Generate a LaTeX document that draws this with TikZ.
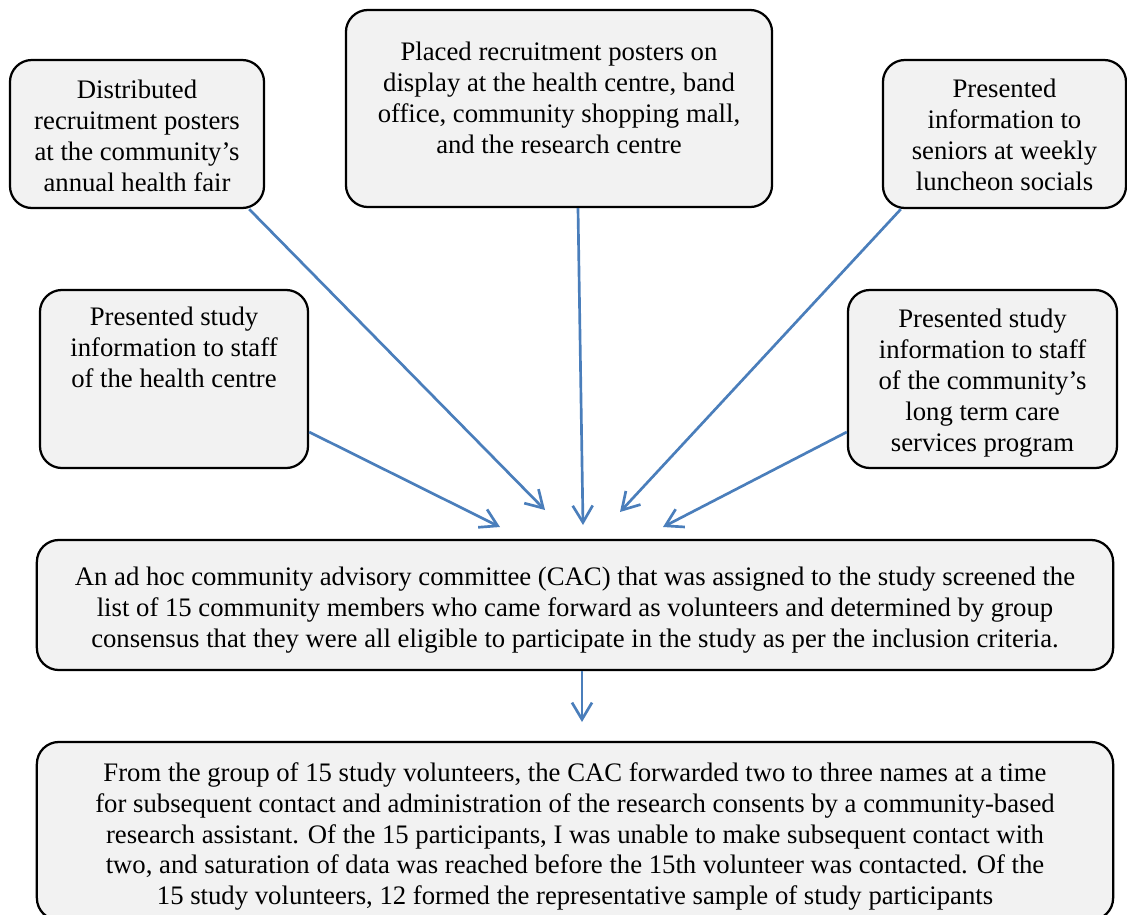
\documentclass[tikz,border=0pt]{standalone}
\usepackage{fontspec}
\setmainfont{Liberation Serif}
\usepackage{tikz}
\usetikzlibrary{arrows.meta,calc,positioning}
\definecolor{boxgray}{HTML}{F2F2F2}
\definecolor{arrowblue}{HTML}{4A7EBB}
\tikzset{
  stagebox/.style={draw=black, fill=boxgray, line width=1.6pt, rounded corners=0.55cm, inner sep=0pt},
  stagetext/.style={align=center, inner sep=0pt, font=\fontsize{19}{22}\selectfont},
  flowarrow/.style={draw=arrowblue, line width=1.9pt, -{Straight Barb[length=0.42cm, width=0.5cm, line width=1.9pt]}}
}

\begin{document}
\begin{tikzpicture}[x=0.025cm, y=-0.025cm]
        \useasboundingbox (0,0) rectangle (1127,915);
        %Boxes
        \node[stagebox, minimum width=6.35cm, minimum height=3.7cm] (b1) at (137,134) {};
        \node[stagebox, minimum width=10.65cm, minimum height=4.925cm] (b2) at (559,108.5) {};
        \node[stagebox, minimum width=6.075cm, minimum height=3.7cm] (b3) at (1004.5,134) {};
        \node[stagebox, minimum width=6.7cm, minimum height=4.45cm] (b4) at (174,379) {};
        \node[stagebox, minimum width=6.725cm, minimum height=4.45cm] (b5) at (982.5,379) {};
        \node[stagebox, minimum width=26.9cm, minimum height=3.25cm] (b6) at (575,605) {};
        \node[stagebox, minimum width=26.9cm, minimum height=4.45cm] (b7) at (575,831) {};
        %Texts
        \node[stagetext, below=0.52cm of b1.north] (t1) {Distributed\\recruitment posters\\at the community's\\annual health fair};
        \node[stagetext, below=0.82cm of b2.north] (t2) {Placed recruitment posters on\\display at the health centre, band\\office, community shopping mall,\\and the research centre};
        \node[stagetext, below=0.5cm of b3.north] (t3) {Presented\\information to\\seniors at weekly\\luncheon socials};
        \node[stagetext, below=0.45cm of b4.north] (t4) {Presented study\\information to staff\\of the health centre};
        \node[stagetext, below=0.5cm of b5.north] (t5) {Presented study\\information to staff\\of the community's\\long term care\\services program};
        \node[stagetext, below=0.7cm of b6.north] (t6) {An ad hoc community advisory committee (CAC) that was assigned to the study screened the\\list of 15 community members who came forward as volunteers and determined by group\\consensus that they were all eligible to participate in the study as per the inclusion criteria.};
        \node[stagetext, below=0.53cm of b7.north] (t7) {From the group of 15 study volunteers, the CAC forwarded two to three names at a time\\for subsequent contact and administration of the research consents by a community-based\\research assistant. Of the 15 participants, I was unable to make subsequent contact with\\two, and saturation of data was reached before the 15th volunteer was contacted. Of the\\15 study volunteers, 12 formed the representative sample of study participants};
        %Arrow ends
        \coordinate (e1) at (545,510);
        \coordinate (e2) at (583,525);
        \coordinate (e3) at (620,512);
        \coordinate (e4) at (500,527);
        \coordinate (e5) at (663,527);
        \coordinate (e6) at (582,722);
        %Arrows
        \draw[flowarrow] ($(b1.south east)+(-16,0)$) -- (e1);
        \draw[flowarrow] ($(b2.south)+(19,0)$) -- (e2);
        \draw[flowarrow] ($(b3.south west)+(19,0)$) -- (e3);
        \draw[flowarrow] ($(b4.east)+(0,53)$) -- (e4);
        \draw[flowarrow] ($(b5.west)+(0,53)$) -- (e5);
        \draw[flowarrow] ($(b6.south)+(7,0)$) -- (e6);
      \end{tikzpicture}
\end{document}
